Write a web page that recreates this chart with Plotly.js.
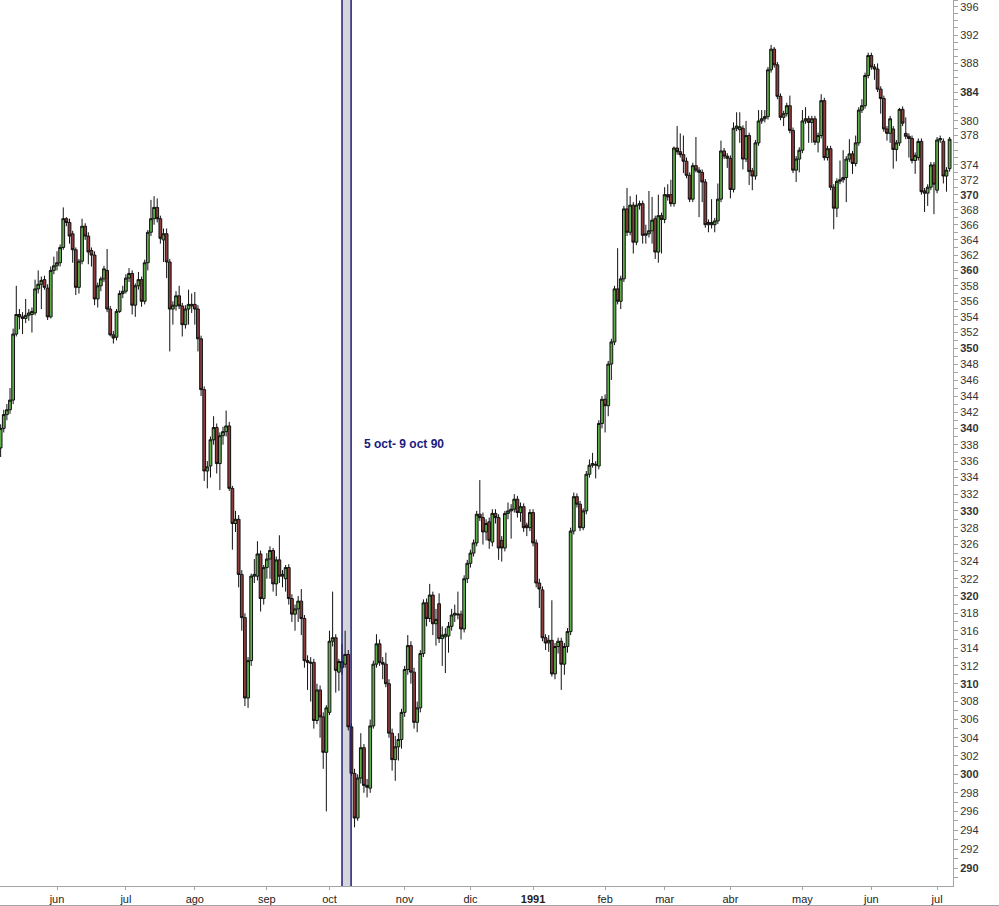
<!DOCTYPE html>
<html>
<head>
<meta charset="utf-8">
<script src="https://cdn.plot.ly/plotly-3.0.1.min.js"></script>
<style>
html,body{margin:0;padding:0;background:#ffffff;}
#chart{width:999px;height:906px;}
</style>
</head>
<body>
<div id="chart"></div>
<script>
// Daily candles, May 1990 - July 1991
const opens = [
337.6,340.0,341.7,342.3,343.5,351.8,354.3,354.0,353.8,354.2,
354.3,354.5,357.6,358.2,358.8,357.7,354.0,360.0,360.6,361.0,
363.0,366.8,366.3,364.8,362.7,357.8,361.2,365.8,364.5,362.6,
362.0,356.3,358.0,358.9,360.0,355.0,351.7,351.4,354.7,357.0,
357.3,359.0,359.6,355.5,358.0,358.8,356.0,361.0,365.0,366.8,
368.3,366.8,364.0,364.8,361.1,355.0,355.4,356.7,355.4,353.0,
355.0,355.4,355.6,355.0,351.2,344.8,334.8,335.4,338.6,340.1,
335.7,339.1,339.6,340.3,332.7,328.5,329.0,322.5,317.5,308.4,
312.6,322.3,322.3,324.9,319.7,323.3,324.3,325.3,321.4,324.2,
322.3,322.0,323.3,319.7,317.9,318.5,319.4,317.4,312.6,312.3,
312.4,305.9,309.3,306.3,302.4,306.8,314.8,315.2,311.3,311.8,
312.2,313.3,305.2,300.1,295.3,299.6,302.9,298.8,298.5,305.3,
312.2,314.5,312.4,312.2,310.0,304.5,301.6,303.0,303.8,306.8,
311.6,314.3,311.3,305.7,307.3,313.4,319.2,317.4,320.1,316.8,
319.1,315.1,315.3,315.4,316.5,317.8,317.8,317.9,316.2,322.0,
323.8,325.0,326.2,329.6,329.2,327.5,328.7,326.3,329.7,329.2,
326.5,325.6,329.7,330.0,330.2,331.4,329.8,330.5,328.3,328.0,
329.8,326.2,321.5,320.7,315.2,314.6,314.9,311.1,314.2,314.8,
312.2,314.2,315.9,327.6,331.7,330.8,328.0,330.0,334.4,335.5,
335.5,335.4,340.6,343.6,342.8,348.0,350.8,357.6,356.0,358.9,
368.1,365.0,368.6,363.7,368.6,368.8,364.6,364.8,365.2,366.8,
362.4,367.2,366.7,370.0,370.0,368.8,376.3,375.8,375.4,374.5,
372.6,369.4,373.9,373.3,373.0,371.7,366.0,366.3,366.0,366.5,
369.4,375.9,375.2,374.9,370.7,379.0,378.8,379.0,374.8,378.0,
373.2,372.5,377.0,380.0,380.3,380.6,387.1,390.0,387.8,383.4,
380.5,381.0,382.1,378.7,373.3,374.8,376.0,380.0,380.3,379.8,
380.3,377.1,378.0,382.8,375.0,376.2,371.0,368.2,371.8,372.0,
372.3,374.8,375.5,374.2,377.0,381.5,382.1,386.3,389.1,387.5,
387.2,384.4,383.1,378.9,378.3,378.9,376.1,377.0,381.6,378.3,
377.9,377.6,374.6,375.0,377.2,370.5,370.2,371.0,374.0,370.6,
377.4,377.2,372.5,373.5
];
const highs = [
340.5,342.3,343.0,345.0,352.5,358.0,355.0,354.6,356.3,355.0,
355.2,358.8,360.0,359.2,359.3,358.2,360.5,361.8,362.5,363.4,
368.3,367.0,366.8,365.2,363.0,361.5,366.8,366.2,365.0,363.0,
362.5,358.4,359.2,360.6,362.8,355.4,352.2,355.0,357.4,358.0,
359.5,360.3,360.0,358.3,359.8,359.2,361.4,365.3,369.3,369.8,
369.5,367.2,365.5,365.5,361.5,356.0,357.3,358.0,355.8,355.5,
357.5,357.0,357.2,355.5,351.6,345.2,336.0,339.0,341.5,340.6,
339.5,340.2,342.2,340.8,333.0,330.0,329.5,323.0,318.0,313.0,
322.6,324.3,326.4,325.3,323.6,325.0,325.8,325.6,324.6,327.1,
323.0,323.6,323.7,320.2,319.0,320.0,320.8,317.8,313.2,313.0,
312.8,310.0,309.8,306.8,307.6,316.0,320.5,315.6,312.8,314.5,
316.0,313.8,305.6,300.6,300.0,304.5,303.3,299.5,306.0,312.6,
315.6,315.0,313.0,313.5,310.5,305.0,304.2,304.5,307.2,312.0,
315.5,314.8,311.8,308.0,313.8,319.6,319.7,321.4,320.5,318.5,
320.3,316.5,316.3,317.0,318.5,319.0,320.5,318.3,322.4,324.2,
325.4,326.6,330.0,333.7,329.8,329.0,329.2,330.2,330.2,329.6,
327.0,330.0,331.0,330.8,332.0,331.8,331.0,330.9,328.6,330.2,
330.2,326.6,322.0,321.1,315.6,315.5,319.5,314.6,315.2,315.2,
314.6,316.3,328.0,332.2,332.1,331.2,330.3,334.8,336.2,337.0,
336.0,341.0,344.0,344.2,348.4,351.2,358.0,362.9,359.3,368.5,
370.9,369.8,369.0,370.0,369.2,369.2,366.0,370.5,369.7,367.2,
370.0,367.6,371.0,371.4,372.0,376.5,379.3,378.3,378.0,375.0,
373.0,374.3,377.8,373.7,373.4,372.1,366.7,369.4,366.9,371.5,
377.3,376.3,375.6,375.3,379.8,381.2,381.2,379.4,380.0,378.4,
373.6,377.4,381.5,381.5,381.5,387.5,390.6,390.3,388.2,383.8,
381.4,382.5,383.5,379.1,375.2,376.4,381.5,381.9,380.7,380.7,
380.7,378.4,383.7,383.2,376.6,376.6,371.4,372.2,374.6,376.0,
375.2,377.5,375.9,378.0,381.9,383.0,386.7,389.5,389.5,387.9,
388.0,384.8,383.5,379.3,380.7,379.3,377.4,381.8,382.0,380.5,
378.3,378.0,375.7,377.6,377.6,370.9,371.4,374.4,374.4,377.8,
378.0,377.6,373.7,377.8
];
const lows = [
336.5,339.5,341.0,341.8,343.0,351.5,352.4,351.8,353.2,353.5,
352.0,354.2,357.0,355.0,357.5,353.6,353.8,359.5,360.0,360.5,
362.7,365.8,363.5,361.0,356.8,357.0,360.8,364.0,360.8,360.5,
355.5,355.2,357.3,358.5,354.6,351.5,350.6,351.0,354.5,356.4,
357.0,358.5,354.3,354.0,357.5,355.3,355.6,360.0,364.5,366.0,
366.3,363.5,361.1,359.0,349.6,353.0,354.8,355.0,351.5,352.5,
353.0,354.5,353.0,349.6,344.0,333.6,332.7,334.0,338.0,334.5,
332.5,338.0,339.0,332.4,325.4,327.5,321.0,316.0,307.5,307.3,
312.0,321.5,321.8,318.2,319.0,322.0,322.0,320.5,320.0,321.5,
321.0,320.5,319.0,317.0,316.0,317.0,315.5,311.8,309.3,308.0,
305.0,305.5,304.0,300.6,296.0,306.5,314.2,309.0,309.2,311.0,
311.8,304.8,299.8,294.3,295.0,299.0,298.0,297.5,298.0,305.0,
311.8,312.0,310.5,309.6,304.0,300.4,299.3,301.5,302.8,306.3,
311.0,310.0,305.0,304.6,306.8,313.0,316.5,317.0,315.5,314.3,
314.6,312.0,311.2,313.5,316.0,317.0,317.3,315.0,315.8,321.5,
323.3,324.6,325.8,328.8,326.0,326.5,325.5,325.8,328.5,324.2,
324.0,325.2,329.0,326.7,329.8,329.2,328.7,327.5,327.0,327.6,
325.8,321.0,318.6,314.8,313.8,313.6,310.8,310.5,313.4,309.3,
311.0,313.5,315.5,327.2,330.4,327.6,327.7,329.6,334.0,335.2,
333.9,335.0,340.0,339.5,341.5,346.0,350.4,355.6,355.0,358.5,
364.5,364.6,362.2,363.3,368.0,363.5,363.5,364.3,363.5,361.5,
361.0,362.2,366.2,369.2,368.4,368.4,375.4,375.0,372.9,372.2,
369.0,369.0,373.0,367.0,369.0,365.6,365.0,365.5,365.0,366.1,
369.0,374.8,373.6,369.5,370.3,378.6,377.0,373.4,374.4,371.3,
370.6,372.0,376.6,379.6,379.8,380.2,386.7,387.4,383.0,380.1,
379.3,380.6,378.3,372.9,371.7,373.0,375.6,379.6,377.0,377.0,
376.7,375.7,377.6,374.6,374.6,370.6,365.4,367.0,371.4,371.6,
369.0,374.4,372.8,373.8,376.6,381.1,381.7,385.9,387.1,385.7,
384.0,381.0,378.5,377.3,377.0,373.5,374.5,376.6,379.3,377.5,
375.0,374.2,372.8,374.6,370.0,367.7,368.5,370.6,367.4,370.2,
377.0,371.5,370.4,373.1
];
const closes = [
340.0,341.7,342.3,343.5,351.8,354.3,354.0,353.8,354.2,354.5,
354.7,357.6,358.2,358.7,357.8,354.0,360.0,360.6,361.0,363.0,
366.8,366.3,364.5,362.7,357.8,361.2,365.8,364.5,362.4,362.0,
356.3,358.0,358.9,360.2,355.0,351.7,351.3,354.7,357.0,357.3,
359.0,359.6,355.5,358.0,358.8,356.0,361.0,365.0,366.8,368.3,
366.8,364.2,364.8,361.1,355.0,355.5,356.7,355.4,353.0,355.0,
355.6,355.6,355.0,351.2,344.8,334.8,335.3,338.6,340.1,335.7,
339.1,339.6,340.3,332.7,328.5,329.0,322.5,317.5,308.4,312.6,
322.3,322.5,324.9,319.7,323.3,324.3,325.3,321.4,324.2,322.3,
322.5,323.3,319.7,317.9,318.5,319.4,317.4,312.6,312.4,312.4,
305.9,309.3,306.3,302.4,307.3,314.8,315.2,311.5,312.5,312.5,
313.3,305.2,300.1,295.3,299.6,302.9,298.8,298.6,305.3,312.2,
314.5,312.4,312.2,310.0,304.5,301.6,303.0,303.8,306.8,311.6,
314.3,311.3,305.7,307.3,313.4,319.2,317.4,320.1,316.8,317.3,
315.1,315.5,315.6,316.5,317.8,318.0,317.9,316.2,322.0,323.8,
325.0,326.2,329.6,329.2,327.5,328.5,326.5,329.7,329.2,325.6,
325.6,329.7,330.0,330.2,331.4,329.8,330.5,328.0,328.0,329.8,
326.2,321.5,320.8,315.2,314.6,314.9,311.1,314.2,314.8,312.2,
314.2,315.9,327.6,331.7,330.8,328.0,330.0,334.4,335.5,335.7,
335.6,340.6,343.6,342.8,348.0,350.8,357.6,356.0,358.9,368.1,
365.0,368.6,363.7,368.6,368.8,364.6,364.8,365.2,366.6,362.4,
367.2,366.7,370.0,369.7,368.8,376.3,375.8,375.4,374.5,372.6,
369.4,373.9,373.3,373.0,371.7,366.0,366.3,366.0,366.5,369.4,
375.9,375.2,374.9,370.7,379.0,379.3,379.2,374.8,378.0,373.1,
372.5,377.0,380.0,380.3,380.6,387.1,390.0,387.8,383.4,380.5,
381.0,382.1,378.7,373.3,374.8,376.0,380.0,380.3,379.8,380.3,
377.1,378.0,382.8,375.0,376.2,371.0,368.2,371.8,372.0,372.3,
374.8,375.5,374.2,377.0,381.5,382.1,386.3,389.1,387.5,387.2,
384.4,383.1,378.9,378.3,380.3,376.1,377.0,381.6,379.7,377.9,
377.6,374.6,375.3,377.2,370.4,370.2,371.0,374.0,371.4,377.4,
377.6,372.5,373.3,377.5
];

// Month labels on the time axis and the trading-day index where each sits
const monthLabels = ['jun','jul','ago','sep','oct','nov','dic','<b>1991</b>','feb','mar','abr','may','jun','jul'];
const monthTickIdx = [18, 40, 62, 85, 105, 129, 150, 170, 193, 212, 233, 256, 278, 299];

// Price-axis labels (right side); bold ones as in the reference
const yLabelVals = [290,292,294,296,298,300,302,304,306,308,310,312,314,316,318,320,322,324,326,328,
                    330,332,334,336,338,340,342,344,346,348,350,352,354,356,358,360,362,364,366,368,
                    370,372,374,378,380,384,388,392,396];
const yBoldVals = [290,300,310,320,330,340,350,360,370,384];

// Highlighted period "5 oct - 9 oct 90" (trading-day index span)
const bandStart = 109.0;
const bandEnd = 111.9;
const bandLabel = '5 oct- 9 oct 90';

const xIdx = closes.map((_, i) => i);

// tick marks every point, labels only at the labelled values
const yTickVals = [];
const yTickText = [];
for (let v = 289; v <= 397; v++) {
  yTickVals.push(v);
  if (yLabelVals.includes(v)) {
    yTickText.push(yBoldVals.includes(v) ? '<b>' + v + '</b>' : String(v));
  } else {
    yTickText.push('');
  }
}

const trace = {
  type: 'candlestick',
  x: xIdx,
  open: opens, high: highs, low: lows, close: closes,
  increasing: {line: {color: '#111111', width: 1}, fillcolor: '#5fae4a'},
  decreasing: {line: {color: '#111111', width: 1}, fillcolor: '#8f3b3b'},
  whiskerwidth: 0,
  hoverinfo: 'skip',
  showlegend: false
};

const axisGray = '#a4a4a4';
const layout = {
  width: 999, height: 906,
  margin: {l: 0, r: 46, t: 0, b: 20, pad: 0},
  paper_bgcolor: '#ffffff',
  plot_bgcolor: '#ffffff',
  showlegend: false,
  boxgap: 0.12,
  boxgroupgap: 0,
  font: {family: 'Liberation Sans, Arial, sans-serif', size: 11, color: '#333333'},
  xaxis: {
    type: 'linear',
    range: [-0.2, 304.08],
    showgrid: false, zeroline: false,
    showline: true, linecolor: axisGray, linewidth: 1,
    ticks: 'outside', ticklen: 3, tickcolor: axisGray,
    tickmode: 'array', tickvals: monthTickIdx, ticktext: monthLabels,
    tickfont: {family: 'Liberation Sans, Arial, sans-serif', size: 11, color: '#222222'},
    rangeslider: {visible: false},
    fixedrange: true
  },
  yaxis: {
    type: 'log',
    side: 'right',
    range: [Math.log10(288.12), Math.log10(397.0)],
    showgrid: false, zeroline: false,
    showline: true, linecolor: axisGray, linewidth: 1,
    ticks: 'outside', ticklen: 4, tickcolor: axisGray,
    tickmode: 'array', tickvals: yTickVals, ticktext: yTickText,
    tickfont: {family: 'Liberation Sans, Arial, sans-serif', size: 11, color: '#333333'},
    fixedrange: true
  },
  shapes: [
    {type: 'rect', xref: 'x', yref: 'paper', x0: bandStart, x1: bandEnd, y0: 0, y1: 1,
     fillcolor: '#d6d6d9', line: {width: 0}, layer: 'below'},
    {type: 'line', xref: 'x', yref: 'paper', x0: bandStart, x1: bandStart, y0: 0, y1: 1,
     line: {color: '#1e1e7e', width: 1.5}, layer: 'above'},
    {type: 'line', xref: 'x', yref: 'paper', x0: bandEnd, x1: bandEnd, y0: 0, y1: 1,
     line: {color: '#1e1e7e', width: 1.5}, layer: 'above'},
    {type: 'line', xref: 'paper', yref: 'paper', x0: 0, x1: 999/953, y0: -19.5/886, y1: -19.5/886,
     line: {color: axisGray, width: 1}, layer: 'above'}
  ],
  annotations: [
    {text: '<b>' + bandLabel + '</b>', xref: 'paper', yref: 'paper',
     x: 362/953, y: 1 - 444/886, xanchor: 'left', yanchor: 'middle', showarrow: false,
     font: {family: 'Liberation Sans, Arial, sans-serif', size: 12, color: '#1a1a80'}}
  ]
};

Plotly.newPlot('chart', [trace], layout, {displayModeBar: false, staticPlot: true});
</script>
</body>
</html>
